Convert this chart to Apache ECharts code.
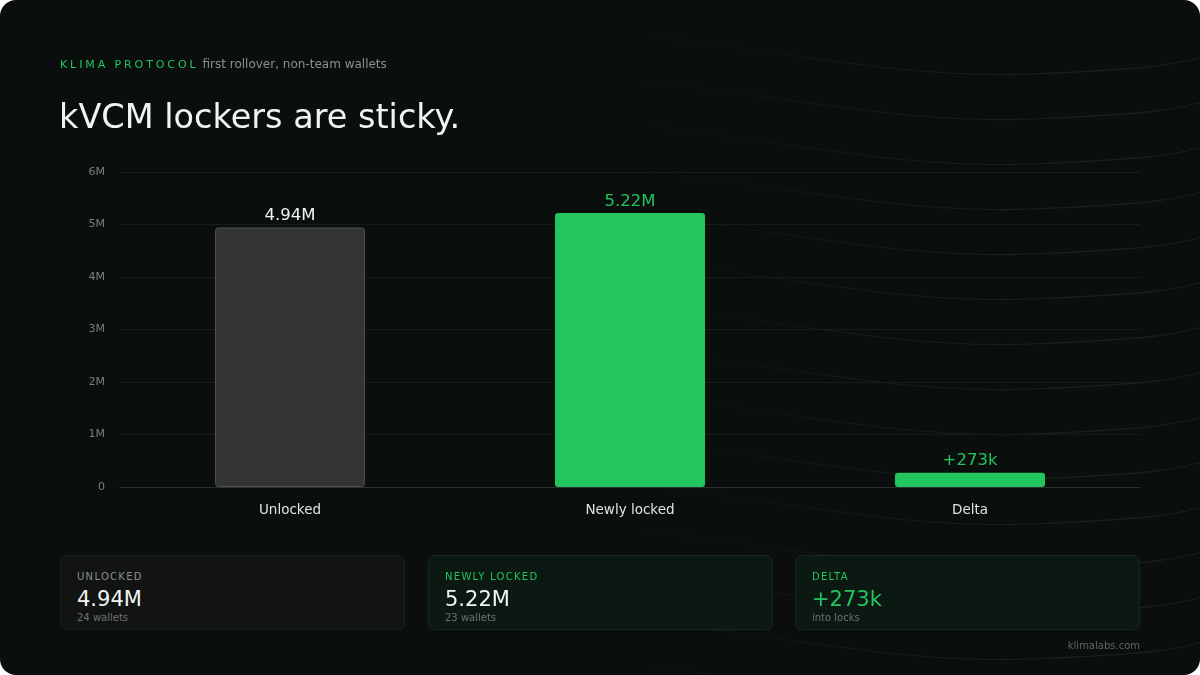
<!DOCTYPE html>
<html>
<head>
<meta charset="utf-8">
<script src="https://cdn.jsdelivr.net/npm/echarts@6/dist/echarts.min.js"></script>
<style>
  html, body { margin: 0; padding: 0; background: #ffffff; }
  body { width: 1200px; height: 675px; overflow: hidden; font-family: "DejaVu Sans", sans-serif; }
  .page { position: absolute; left: 0; top: 0; width: 1200px; height: 675px; background: #0a0e0d; border-radius: 16px; overflow: hidden; }
  .waves { position: absolute; left: 0; top: 0; }
  #chart { position: absolute; left: 0; top: 0; width: 1200px; height: 675px; }
  .eyebrow { position: absolute; left: 60px; top: 57px; font-size: 12px; color: #8a8f8c; white-space: nowrap; }
  .eyebrow b { font-weight: normal; color: #22c55e; font-size: 11px; letter-spacing: 2.9px; margin-right: 4px; }
  .title { position: absolute; left: 59px; top: 97px; font-size: 33.5px; color: #f2f4f3; }
  .card { position: absolute; top: 555px; height: 75px; box-sizing: border-box; border-radius: 6px; padding: 15px 16px; }
  .card.grey { background: #111413; border: 1px solid #1a1e1c; }
  .card.green { background: #0c1912; border: 1px solid #15291c; }
  .card .lab { font-size: 10px; letter-spacing: 1.3px; color: #8a8f8c; }
  .card.green .lab { color: #22c55e; }
  .card .val { font-size: 21px; color: #f2f4f3; margin-top: 5px; line-height: 24px; }
  .card .val.g { color: #22c55e; }
  .card .sub { font-size: 10px; color: #6d726f; margin-top: 1px; }
  .foot { position: absolute; right: 60px; top: 640px; font-size: 10px; color: #5f6562; }
</style>
</head>
<body>
<div class="page">
  <svg class="waves" width="1200" height="675">
    <defs>
      <linearGradient id="fade" x1="0" x2="1" y1="0" y2="0">
        <stop offset="0.3" stop-color="#17201d" stop-opacity="0"/>
        <stop offset="0.75" stop-color="#17201d" stop-opacity="1"/>
      </linearGradient>
    </defs>
    <g id="wv" fill="none" stroke="url(#fade)" stroke-width="1.2"></g>
  </svg>
  <div id="chart"></div>
  <div class="eyebrow"><b>KLIMA PROTOCOL</b>first rollover, non-team wallets</div>
  <div class="title">kVCM lockers are sticky.</div>
  <div class="card grey" style="left:60px;width:345px;">
    <div class="lab">UNLOCKED</div><div class="val">4.94M</div><div class="sub">24 wallets</div>
  </div>
  <div class="card green" style="left:428px;width:345px;">
    <div class="lab">NEWLY LOCKED</div><div class="val">5.22M</div><div class="sub">23 wallets</div>
  </div>
  <div class="card green" style="left:795px;width:345px;">
    <div class="lab">DELTA</div><div class="val g">+273k</div><div class="sub">into locks</div>
  </div>
  <div class="foot">klimalabs.com</div>
</div>
<script>
// decorative background waves
var wv = document.getElementById('wv');
for (var i = 0; i < 15; i++) {
  var y = 36 + i * 45;
  var p = document.createElementNS('http://www.w3.org/2000/svg', 'path');
  p.setAttribute('d', 'M 380 ' + (y - 20) + ' C 700 ' + (y - 12) + ', 850 ' + (y + 45) + ', 1030 ' + (y + 38) + ' S 1180 ' + (y + 22) + ', 1220 ' + (y + 18));
  wv.appendChild(p);
}

var categories = ["Unlocked", "Newly locked", "Delta"];
var values = [4.944, 5.217, 0.273];        // millions
var valueLabels = ["4.94M", "5.22M", "+273k"];
var yTicks = ["0", "1M", "2M", "3M", "4M", "5M", "6M"];

var green = "#22c55e";
var barData = values.map(function (v, i) {
  if (i === 0) {
    return { value: v, itemStyle: { color: "#333433", borderColor: "#4e524f", borderWidth: 1 },
             label: { color: "#f2f4f3" } };
  }
  return { value: v, itemStyle: { color: green }, label: { color: green } };
});

var myChart = echarts.init(document.getElementById("chart"), null, { renderer: "canvas" });
var option = {
  backgroundColor: "transparent",
  animation: false,
  grid: { left: 120, right: 60, top: 172, bottom: 188, containLabel: false },
  xAxis: {
    type: "category",
    data: categories,
    axisTick: { show: false },
    axisLine: { lineStyle: { color: "#2c312e" } },
    axisLabel: { color: "#dfe3e1", fontSize: 13.5, margin: 16, fontFamily: "DejaVu Sans" }
  },
  yAxis: {
    type: "value",
    min: 0, max: 6, interval: 1,
    axisLine: { show: false },
    axisTick: { show: false },
    splitLine: { lineStyle: { color: "#161c19" } },
    axisLabel: {
      color: "#7a7f7c", fontSize: 11, margin: 15, fontFamily: "DejaVu Sans",
      formatter: function (v) { return yTicks[Math.round(v)]; }
    }
  },
  series: [{
    type: "bar",
    data: barData,
    barWidth: 150,
    itemStyle: { borderRadius: 3 },
    label: {
      show: true, position: "top", distance: 3, fontSize: 16.5, fontFamily: "DejaVu Sans",
      formatter: function (p) { return valueLabels[p.dataIndex]; }
    }
  }]
};
myChart.setOption(option);
</script>
</body>
</html>
